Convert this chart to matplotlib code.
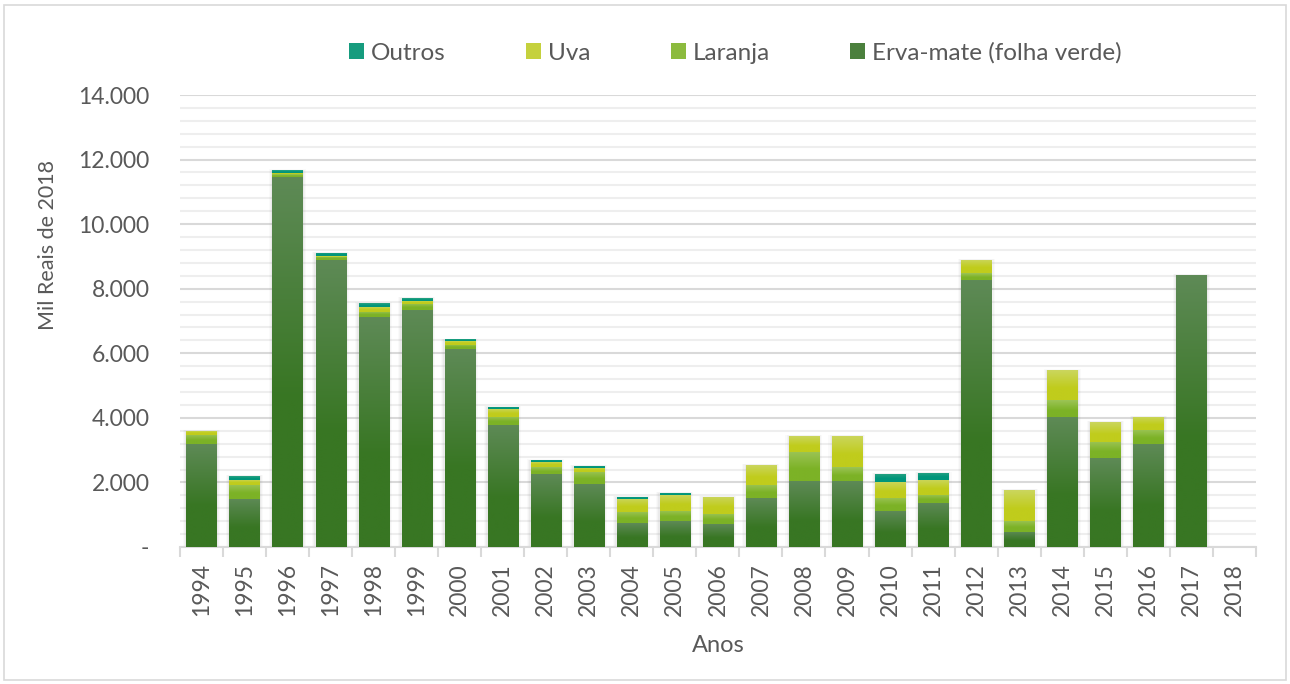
import numpy as np
import matplotlib
matplotlib.use("Agg")
from matplotlib import pyplot as plt
from matplotlib.patches import Rectangle
from matplotlib.ticker import FuncFormatter, MultipleLocator, FixedLocator

plt.rcParams['font.family'] = ['Lato', 'DejaVu Sans']

# data (Mil Reais de 2018)
anos = [str(a) for a in range(1994, 2019)]
erva = [3190, 1487, 11470, 8890, 7120, 7340, 6130, 3780, 2260, 1950, 743, 805, 712,
        1517, 2044, 2044, 1115, 1363, 8270, 465, 4026, 2756, 3190, 8424, 0]
laranja = [279, 444, 70, 100, 165, 186, 124, 248, 206, 372, 341, 310, 310,
           403, 908, 423, 403, 248, 206, 341, 526, 496, 434, 0, 0]
uva = [124, 155, 40, 20, 155, 103, 124, 248, 165, 124, 403, 496, 527,
       619, 485, 970, 496, 465, 413, 960, 929, 619, 403, 0, 0]
outros = [0, 114, 90, 100, 115, 83, 52, 62, 62, 62, 62, 62, 0,
          0, 0, 0, 248, 217, 0, 0, 0, 0, 0, 0, 0]

series = [
    ("Erva-mate (folha verde)", erva, "#5e8a56", "#387623"),
    ("Laranja", laranja, "#9cc456", "#7cb226"),
    ("Uva", uva, "#cbd65e", "#c0cc1c"),
    ("Outros", outros, "#2da383", "#00957a"),
]

txt = "#595959"
W = 0.7

fig = plt.figure(figsize=(12.9, 6.84), dpi=100)
ax = fig.add_axes([0.1395, 0.2003, 0.834, 0.6608])
x = np.arange(len(anos))

# soft shadow behind each stack
tot = np.array(erva) + np.array(laranja) + np.array(uva) + np.array(outros)
for dw, a in [(0.16, 0.04), (0.11, 0.05), (0.06, 0.07)]:
    ax.bar(x, np.where(tot > 0, tot + dw * 150, 0), W + dw, color="#808080",
           alpha=a, linewidth=0, zorder=2)


def gradient(c_top, c_bot, n=100):
    t = np.clip(np.linspace(0, 1, n) / 0.6, 0, 1)[:, None]
    a = np.array(matplotlib.colors.to_rgb(c_top))
    b = np.array(matplotlib.colors.to_rgb(c_bot))
    return (a * (1 - t) + b * t)[:, None, :]


base = np.zeros(len(anos))
handles = []
for nome, vals, c1, c2 in series:
    vals = np.array(vals, dtype=float)
    bars = ax.bar(x, vals, W, bottom=base, color=c2, linewidth=0, zorder=3, label=nome)
    g = gradient(c1, c2)
    for r, v in zip(bars, vals):
        if v <= 0:
            continue
        x0, y0 = r.get_x(), r.get_y()
        im = ax.imshow(g, extent=[x0, x0 + r.get_width(), y0, y0 + r.get_height()],
                       aspect='auto', interpolation='bilinear', zorder=4)
        im.set_clip_path(r)
    handles.append(Rectangle((0, 0), 1, 1, facecolor=matplotlib.colors.to_hex(
        (np.array(matplotlib.colors.to_rgb(c1)) + np.array(matplotlib.colors.to_rgb(c2))) / 2),
        linewidth=0))
    base += vals

ax.set_xlim(-0.5, len(anos) - 0.5)
ax.set_ylim(0, 14000)
ax.set_aspect('auto')

ax.yaxis.set_major_locator(MultipleLocator(2000))
ax.yaxis.set_minor_locator(MultipleLocator(400))
ax.yaxis.set_major_formatter(FuncFormatter(
    lambda v, p: "-" if v == 0 else f"{int(v):,}".replace(",", ".")))
ax.grid(axis='y', which='major', color="#d9d9d9", linewidth=1.5, zorder=0)
ax.grid(axis='y', which='minor', color="#eeeeee", linewidth=1.5, zorder=0)
ax.set_axisbelow(True)

ax.set_xticks(x)
ax.set_xticklabels(anos, rotation=90)
ax.xaxis.set_minor_locator(FixedLocator(np.arange(-0.5, len(anos), 1)))
ax.tick_params(axis='x', which='major', length=0, pad=11.5, labelsize=16.5, labelcolor=txt)
ax.tick_params(axis='x', which='minor', length=7, width=1.5, color="#d9d9d9")
ax.tick_params(axis='y', which='both', length=0, pad=22, labelsize=16.5, labelcolor=txt)

for s in ['top', 'right', 'left']:
    ax.spines[s].set_visible(False)
ax.spines['bottom'].set_color("#d9d9d9")
ax.spines['bottom'].set_linewidth(1.5)

ax.set_ylabel("Mil Reais de 2018", fontsize=15.5, color=txt)
ax.yaxis.set_label_coords(-0.113, 0.668)
ax.set_xlabel("Anos", fontsize=17, color=txt)
ax.xaxis.set_label_coords(0.5, -0.195)

labels = [s[0] for s in series]
fig.legend(handles[::-1], labels[::-1], loc='center', bbox_to_anchor=(0.570, 0.9225),
           ncol=4, frameon=False, fontsize=17.5, labelcolor=txt, handlelength=0.62,
           handleheight=0.62, handletextpad=0.28, columnspacing=3.3)

fig.patches.append(Rectangle((0.003, 0.006), 0.994, 0.987, transform=fig.transFigure,
                             fill=False, edgecolor="#d9d9d9", linewidth=1.2))

fig.savefig("out.png", dpi=100)
